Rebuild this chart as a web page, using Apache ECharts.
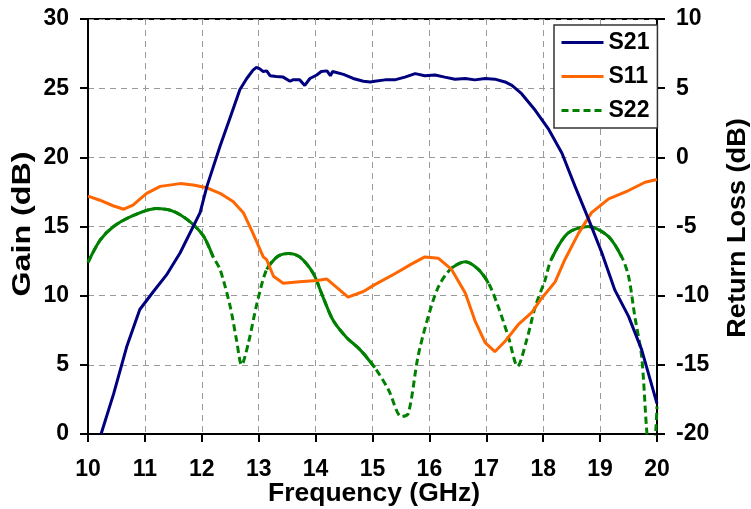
<!DOCTYPE html>
<html>
<head>
<meta charset="utf-8">
<script src="https://cdn.jsdelivr.net/npm/echarts@6/dist/echarts.min.js"></script>
<style>html,body{margin:0;padding:0;background:#fff}#c{width:751px;height:509px}</style>
</head>
<body>
<div id="c"></div>
<script>
// ---- Data ----
const freqTicks = [10, 11, 12, 13, 14, 15, 16, 17, 18, 19, 20];
const gainTicks = [0, 5, 10, 15, 20, 25, 30];
const rlTicks = [-20, -15, -10, -5, 0, 5, 10];

// S21 gain (dB), left axis
const s21Freq = [10.23, 10.45, 10.68, 10.91, 11.15, 11.38, 11.62, 11.97, 12.09, 12.32, 12.5, 12.67, 12.79,
  12.9, 12.96, 13.02, 13.08, 13.14, 13.2, 13.31, 13.43, 13.55, 13.6, 13.72, 13.81, 13.9, 14.02, 14.1, 14.2,
  14.26, 14.3, 14.49, 14.66, 14.84, 14.96, 15.04, 15.22, 15.39, 15.57, 15.75, 15.92, 16.1, 16.27, 16.45,
  16.63, 16.8, 16.98, 17.15, 17.33, 17.45, 17.62, 17.86, 18.1, 18.33, 18.56, 18.8, 19.03, 19.26, 19.5,
  19.73, 20.0];
const s21Gain = [0, 2.9, 6.3, 9.0, 10.3, 11.5, 13.1, 16.0, 17.9, 20.8, 22.9, 24.9, 25.7,
  26.3, 26.5, 26.4, 26.2, 26.25, 25.9, 25.85, 25.8, 25.5, 25.6, 25.6, 25.2, 25.7, 25.95, 26.2, 26.25,
  25.9, 26.2, 26.0, 25.7, 25.5, 25.45, 25.5, 25.6, 25.6, 25.8, 26.05, 25.9, 25.95, 25.8, 25.65,
  25.7, 25.6, 25.7, 25.65, 25.45, 25.2, 24.6, 23.4, 22.0, 20.3, 17.9, 15.5, 13.1, 10.4, 8.5,
  6.1, 2.2];

// S11 return loss (dB), right axis
const s11Freq = [10.0, 10.21, 10.44, 10.63, 10.79, 11.03, 11.27, 11.62, 11.85, 12.09, 12.32, 12.55, 12.73,
  12.9, 13.08, 13.14, 13.26, 13.43, 13.72, 14.02, 14.2, 14.37, 14.57, 14.84, 15.04, 15.4, 15.69, 15.92,
  16.16, 16.39, 16.63, 16.8, 16.98, 17.15, 17.33, 17.56, 17.8, 17.97, 18.21, 18.38, 18.62, 18.85, 19.15,
  19.5, 19.79, 20.0];
const s11RL = [-2.8, -3.1, -3.5, -3.75, -3.45, -2.6, -2.1, -1.9, -2.0, -2.2, -2.6, -3.2, -4.0,
  -5.5, -7.2, -7.4, -8.6, -9.1, -9.0, -8.9, -8.8, -9.4, -10.1, -9.7, -9.2, -8.4, -7.7, -7.2,
  -7.3, -8.1, -9.8, -11.8, -13.4, -14.05, -13.3, -12.1, -11.2, -10.2, -9.0, -7.4, -5.5, -4.0, -3.0,
  -2.4, -1.8, -1.6];

// S22 return loss (dB), right axis
const s22Freq = [10.0, 10.21, 10.45, 10.8, 11.2, 11.5, 11.79, 12.03, 12.2, 12.32, 12.5, 12.61, 12.7,
  12.82, 12.97, 13.14, 13.32, 13.52, 13.72, 13.96, 14.13, 14.31, 14.54, 14.78, 15.04, 15.28, 15.51,
  15.63, 15.8, 15.98, 16.16, 16.39, 16.63, 16.86, 17.04, 17.21, 17.39, 17.55, 17.71, 17.86, 18.03,
  18.14, 18.43, 18.79, 19.14, 19.38, 19.5, 19.61, 19.73, 19.82, 19.88, 19.94, 19.98, 20.0];
const s22RL = [-7.6, -6.0, -5.0, -4.2, -3.7, -3.9, -4.65, -5.7, -7.2, -8.1, -10.8, -13.2, -15.0,
  -13.4, -10.55, -8.1, -7.2, -6.95, -7.2, -8.4, -10.1, -11.8, -13.0, -13.9, -15.2, -16.8, -18.75,
  -18.5, -14.4, -11.5, -9.35, -8.0, -7.55, -8.1, -9.1, -10.8, -13.0, -15.1, -13.2, -10.8, -8.9,
  -7.4, -5.5, -5.0, -5.7, -7.2, -8.6, -11.5, -14.4, -19.8, -22.0, -21.5, -19.7, -18.0];

// ---- Style (not data) ----
const S22_DASHED_BANDS = [[12.22, 13.12], [15.25, 16.2], [17.1, 18.05], [19.42, 20.01]];
const FONT = 'Liberation Sans, Arial, sans-serif';

function pairs(xs, ys) { return xs.map((x, i) => [x, ys[i]]); }
function inBand(f) { return S22_DASHED_BANDS.some(b => f > b[0] && f < b[1]); }
const s22SolidPart = s22Freq.map((f, i) => [f, inBand(f) ? null : s22RL[i]]);

const chart = echarts.init(document.getElementById('c'), null, { renderer: 'canvas' });
const tickFont = { color: '#000', fontFamily: FONT, fontWeight: 'bold', fontSize: 23 };
const splitLine = { show: true, lineStyle: { color: '#9a9a9a', type: [6, 5], width: 1 } };

chart.setOption({
  animation: false,
  backgroundColor: '#fff',
  grid: { left: 88, right: 94, top: 19, bottom: 75, show: true, borderColor: '#000', borderWidth: 2, backgroundColor: 'transparent' },
  legend: {
    data: ['S21', 'S11', 'S22'],
    orient: 'vertical', left: 554, top: 25,
    itemWidth: 42, itemHeight: 14, itemGap: 11,
    padding: [6, 8, 6, 6],
    backgroundColor: '#fff', borderColor: '#333', borderWidth: 1.5, borderRadius: 0,
    itemStyle: { opacity: 0 },
    lineStyle: { width: 3 },
    textStyle: { color: '#000', fontFamily: FONT, fontWeight: 'bold', fontSize: 23 }
  },
  xAxis: {
    type: 'value', min: 10, max: 20, interval: 1,
    axisLine: { show: true, lineStyle: { color: '#000', width: 2 } },
    axisTick: { show: true, length: 8, inside: false, lineStyle: { color: '#000', width: 2 } },
    axisLabel: Object.assign({ margin: 24, formatter: v => freqTicks.includes(v) ? String(v) : '' }, tickFont),
    splitLine: splitLine
  },
  yAxis: [{
    type: 'value', min: 0, max: 30, interval: 5, position: 'left',
    axisLine: { show: true, lineStyle: { color: '#000', width: 2 } },
    axisTick: { show: true, length: 8, lineStyle: { color: '#000', width: 2 } },
    axisLabel: Object.assign({ margin: 19, formatter: v => gainTicks.includes(v) ? String(v) : '' }, tickFont),
    splitLine: splitLine
  }, {
    type: 'value', min: -20, max: 10, interval: 5, position: 'right',
    axisLine: { show: true, lineStyle: { color: '#000', width: 2 } },
    axisTick: { show: true, length: 8, lineStyle: { color: '#000', width: 2 } },
    axisLabel: Object.assign({ margin: 19, formatter: v => rlTicks.includes(v) ? String(v) : '' }, tickFont),
    splitLine: { show: false }
  }],
  graphic: [
    { type: 'text', x: 23, y: 224, rotation: Math.PI / 2, scaleX: 1.24, z: 100,
      style: { text: 'Gain (dB)', font: 'bold 26px ' + FONT, fill: '#000', textAlign: 'center', textVerticalAlign: 'middle' } },
    { type: 'text', x: 738, y: 228, rotation: Math.PI / 2, scaleX: 1.04, z: 100,
      style: { text: 'Return Loss (dB)', font: 'bold 26px ' + FONT, fill: '#000', textAlign: 'center', textVerticalAlign: 'middle' } },
    { type: 'text', x: 374, y: 494, scaleX: 1.06, z: 100,
      style: { text: 'Frequency (GHz)', font: 'bold 25px ' + FONT, fill: '#000', textAlign: 'center', textVerticalAlign: 'middle' } }
  ],
  series: [
    { name: 'S21', type: 'line', yAxisIndex: 0, data: pairs(s21Freq, s21Gain), showSymbol: false, symbol: 'none',
      lineStyle: { color: '#00007f', width: 3 }, itemStyle: { color: '#00007f' }, z: 5 },
    { name: 'S11', type: 'line', yAxisIndex: 1, data: pairs(s11Freq, s11RL), showSymbol: false, symbol: 'none',
      lineStyle: { color: '#ff6600', width: 3 }, itemStyle: { color: '#ff6600' }, z: 4 },
    { name: 'S22', type: 'line', yAxisIndex: 1, data: pairs(s22Freq, s22RL), showSymbol: false, symbol: 'none', smooth: 0.3,
      lineStyle: { color: '#008000', width: 3, type: [7, 4] }, itemStyle: { color: '#008000' }, z: 3 },
    { name: 'S22 (solid)', type: 'line', yAxisIndex: 1, data: s22SolidPart, showSymbol: false, symbol: 'none', smooth: 0.3,
      connectNulls: false, lineStyle: { color: '#008000', width: 3 }, itemStyle: { color: '#008000' }, z: 3 }
  ]
});
</script>
</body>
</html>
